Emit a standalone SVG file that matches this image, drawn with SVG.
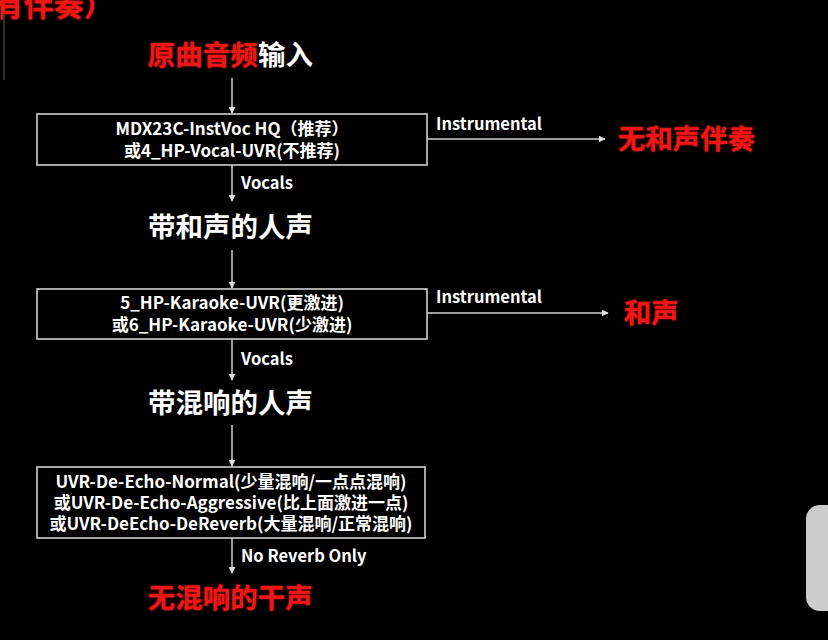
<svg xmlns="http://www.w3.org/2000/svg" width="828" height="640" viewBox="0 0 828 640">
<defs>
<style>
text{font-family:"Noto Sans CJK SC","Microsoft YaHei","Liberation Sans",sans-serif;font-weight:bold;}
.big{font-size:27.5px;fill:#ffffff;}
.red{fill:#f01818;filter:url(#glow);}
.box{fill:none;stroke:#d0d0d0;stroke-width:1.6;}
.bt{font-size:17px;fill:#ffffff;text-anchor:middle;}
.lbl{font-size:16.5px;fill:#ffffff;}
.ln{stroke:#d0d0d0;stroke-width:1.5;fill:none;marker-end:url(#ah);}
</style>
<marker id="ah" viewBox="0 0 10 10" refX="9" refY="5" markerWidth="7" markerHeight="7" markerUnits="userSpaceOnUse" orient="auto">
<path d="M0,0 L10,5 L0,10 z" fill="#e0e0e0"/>
</marker>
<filter id="glow" x="-10%" y="-30%" width="120%" height="160%">
<feGaussianBlur stdDeviation="1.2" result="b"/>
<feMerge><feMergeNode in="b"/><feMergeNode in="SourceGraphic"/></feMerge>
</filter>
</defs>
<rect width="828" height="640" fill="#000000"/>
<text x="-6" y="16" class="big red" style="font-size:30px">有伴奏）</text>
<line x1="4" y1="14" x2="4" y2="80" stroke="#303030" stroke-width="2"/>
<rect x="806" y="505" width="40" height="106" rx="14" fill="#cccccc"/>

<g id="input"><text x="148" y="65" class="big"><tspan class="red">原曲音频</tspan>输入</text></g>

<g id="box1">
<rect x="37" y="114" width="390" height="51" class="box"/>
<text x="232" y="135" class="bt">MDX23C-InstVoc HQ（推荐）</text>
<text x="232" y="157" class="bt">或4_HP-Vocal-UVR(不推荐)</text>
</g>
<g id="out1"><text x="618" y="149" class="big red">无和声伴奏</text></g>
<g id="vocals1"><text x="148" y="237" class="big">带和声的人声</text></g>

<g id="box2">
<rect x="37" y="289" width="390" height="50" class="box"/>
<text x="232" y="309" class="bt">5_HP-Karaoke-UVR(更激进)</text>
<text x="232" y="331" class="bt">或6_HP-Karaoke-UVR(少激进)</text>
</g>
<g id="out2"><text x="624" y="323" class="big red">和声</text></g>
<g id="vocals2"><text x="148" y="413" class="big">带混响的人声</text></g>

<g id="box3">
<rect x="37" y="467" width="388" height="71" class="box"/>
<text x="231" y="488" class="bt">UVR-De-Echo-Normal(少量混响/一点点混响)</text>
<text x="231" y="509" class="bt">或UVR-De-Echo-Aggressive(比上面激进一点)</text>
<text x="231" y="530" class="bt">或UVR-DeEcho-DeReverb(大量混响/正常混响)</text>
</g>
<g id="out3"><text x="148" y="608" class="big red">无混响的干声</text></g>

<g id="connectors">
<line x1="232" y1="78" x2="232" y2="113" class="ln"/>
<line x1="427" y1="139" x2="605" y2="139" class="ln"/>
<text x="436" y="130" class="lbl">Instrumental</text>
<line x1="232" y1="165" x2="232" y2="201" class="ln"/>
<text x="241" y="189" class="lbl">Vocals</text>
<line x1="232" y1="250" x2="232" y2="288" class="ln"/>
<line x1="427" y1="313" x2="608" y2="313" class="ln"/>
<text x="436" y="303" class="lbl">Instrumental</text>
<line x1="232" y1="339" x2="232" y2="380" class="ln"/>
<text x="241" y="365" class="lbl">Vocals</text>
<line x1="232" y1="425" x2="232" y2="466" class="ln"/>
<line x1="232" y1="538" x2="232" y2="573" class="ln"/>
<text x="241" y="562" class="lbl">No Reverb Only</text>
</g>
</svg>
